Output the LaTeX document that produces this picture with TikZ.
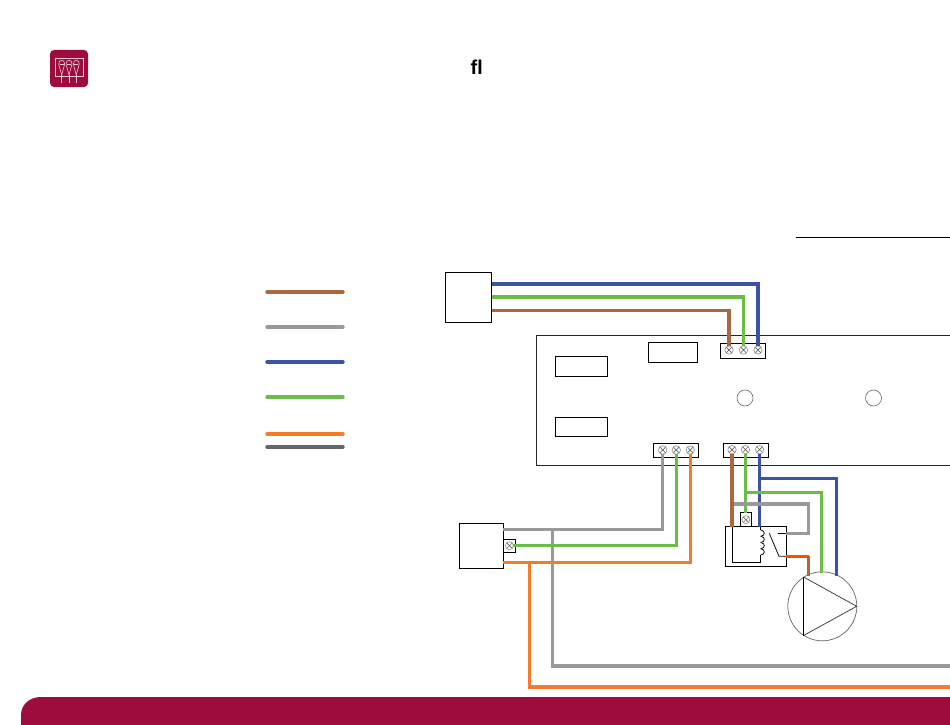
\documentclass[tikz,border=0pt]{standalone}
\usepackage{fontspec}
\setmainfont{Liberation Sans}
\definecolor{crimson}{HTML}{9E0B3D}
\definecolor{wbrown}{HTML}{A9693F}
\definecolor{wgray}{HTML}{999999}
\definecolor{wblue}{HTML}{3A53A4}
\definecolor{wgreen}{HTML}{6ABD45}
\definecolor{worange}{HTML}{F47B2B}
\definecolor{wdark}{HTML}{666666}
\definecolor{iconline}{HTML}{F0C8D4}
\tikzset{
  x=1pt,y=-1pt,
  boxn/.style={draw=black,line width=0.9pt,fill=white,inner sep=0pt,outer sep=0pt},
  screw/.style={circle,draw=black!45,line width=0.6pt,minimum size=8.4pt,inner sep=0pt,outer sep=0pt,
    path picture={\draw[black!70,line width=0.45pt]
      (path picture bounding box.south west)--(path picture bounding box.north east)
      (path picture bounding box.north west)--(path picture bounding box.south east);}},
  lamp/.style={circle,draw=black!60,line width=0.6pt,minimum size=16pt,inner sep=0pt,outer sep=0pt},
  wire/.style={line width=3.08pt,line join=miter},
  key/.style={line width=3.4pt,line cap=round},
  thin wire/.style={line width=0.75pt,black},
}
\begin{document}
\begin{tikzpicture}
\useasboundingbox (0,0) rectangle (950,725);
\fill[white] (0,0) rectangle (950,725);
% footer band
\fill[crimson] (21,725) -- (21,715) .. controls (21,705) and (29,697) .. (41,697) -- (950,697) -- (950,725) -- cycle;
% icon
\fill[crimson,rounded corners=4pt] (50,50) rectangle (88,87);
\draw[iconline,line width=0.7pt] (55.7,58.3) rectangle (83.3,76.7);
\foreach \bx in {61.7,69,76.3}{
  \draw[iconline,line width=0.6pt,fill=crimson] (\bx-3,64) .. controls (\bx-3,59) and (\bx+3,59) .. (\bx+3,64) -- (\bx,75) -- cycle;
  \draw[iconline,line width=0.5pt] (\bx-2,64) -- (\bx+2,64);
  \draw[iconline,line width=0.5pt] (\bx,75) -- (\bx,83);
}
% title
\node[font=\bfseries\fontsize{20pt}{22pt}\selectfont,inner sep=0pt] (title) at (476.8,67) {ﬂ};
% rule
\coordinate (ruleL) at (796,237.5);
\coordinate (ruleR) at (950,237.5);
\draw[line width=0.9pt] (ruleL) -- (ruleR);
% legend
\foreach \ly/\lc in {292/wbrown,327/wgray,362/wblue,397/wgreen,434/worange,447/wdark}{
  \draw[key,\lc] (267,\ly) -- (343,\ly);
}
% main enclosure
\draw[line width=0.8pt,black!85] (950,335.5) -| (536.5,465.5) -- (950,465.5);
\node[boxn,minimum width=52pt,minimum height=19.5pt] (labelA) at (581,366.5) {};
\node[boxn,minimum width=52pt,minimum height=19.5pt] (labelB) at (581,427) {};
\node[boxn,minimum width=49pt,minimum height=19.5pt] (labelC) at (672.5,352.5) {};
\node[lamp] (lampA) at (745,398) {};
\node[lamp] (lampB) at (873.5,398) {};
% supply box and terminal blocks
\node[boxn,minimum width=46.5pt,minimum height=50pt] (supply) at (468.5,297) {};
\node[boxn,minimum width=45pt,minimum height=15pt] (blockT) at (743,350.5) {};
\node[screw] (t1) at (729,350) {};
\node[screw] (t2) at (743.5,350) {};
\node[screw] (t3) at (758,350) {};
\node[boxn,minimum width=45pt,minimum height=14pt] (blockL) at (675.7,450.3) {};
\node[screw] (l1) at (662.7,450) {};
\node[screw] (l2) at (676.3,450) {};
\node[screw] (l3) at (690.3,450) {};
\node[boxn,minimum width=45pt,minimum height=14pt] (blockR) at (745.8,450.3) {};
\node[screw] (r1) at (732,449.7) {};
\node[screw] (r2) at (745.4,449.7) {};
\node[screw] (r3) at (759.6,449.7) {};
% controller at lower left
\node[boxn,minimum width=44pt,minimum height=45pt] (ctrl) at (481.3,545.8) {};
\node[boxn,minimum width=12.4pt,minimum height=13pt] (ctrlT) at (509.5,545.8) {};
\node[screw,minimum size=8pt] (c1) at (509.4,545.7) {};
% relay
\node[boxn,minimum width=61pt,minimum height=39.6pt] (relay) at (755.8,546.5) {};
\node[boxn,minimum width=11pt,minimum height=14pt] (relayT) at (746.2,519.7) {};
\node[screw,minimum size=8pt] (rl1) at (745.9,519.7) {};
% pump
\node[circle,draw=black!60,line width=0.7pt,minimum size=69pt,inner sep=0pt,outer sep=0pt] (pump) at (822.3,606.3) {};
\coordinate (pa) at (803.6,577);
\coordinate (pb) at (803.6,635.5);
\coordinate (pc) at (856.7,606.3);
\draw[line width=0.7pt,black!80] (pb) -- (pc) -- (pa);
\draw[line width=0.9pt] (pa) -- (pb);
% relay internals
\coordinate (coilT) at (760.7,526.7);
\coordinate (coilA) at (760.7,530);
\coordinate (coilB) at (760.7,555);
\coordinate (coilR) at (732.3,562.3);
\coordinate (coilL) at (732.3,526.7);
\coordinate (swA) at (769.3,533.3);
\coordinate (swB) at (779,556.3);
\coordinate (swC) at (778,533.3);
\coordinate (swD) at (786.3,533.3);
\coordinate (swE) at (786.3,556.3);
\draw[thin wire] (coilL) -- (coilR) -| (coilB);
\draw[thin wire] (coilT) -- (coilA);
\foreach \cy in {530,536.25,542.5,548.75}{
  \draw[thin wire] (760.7,\cy) .. controls (765.5,\cy+0.5) and (765.5,\cy+5.75) .. (760.7,\cy+6.25);
}
\draw[thin wire] (swA) -- (swB) -- (swE);
\draw[thin wire] (swC) -- (swD);
% wires: supply to top block
\coordinate (sB) at (492,284);
\coordinate (sG) at (492,297);
\coordinate (sN) at (492,310.5);
\draw[wire,wbrown] (sN) -| (t1.north);
\draw[wire,wgreen] (sG) -| (t2.north);
\draw[wire,wblue] (sB) -| (t3.north);
% wires: lower left block to controller
\coordinate (cG) at (503.3,529.5);
\coordinate (cO) at (503.3,562.5);
\coordinate (gJ) at (552.5,529.5);
\coordinate (oJ) at (529.5,562.5);
\coordinate (gE) at (950,666);
\coordinate (oE) at (950,687);
\draw[wire,wgray] (gJ) |- (gE);
\draw[wire,worange] (oJ) |- (oE);
\draw[wire,wgray] (cG) -| (l1.south);
\draw[wire,wgreen] (c1.east) -| (l2.south);
\draw[wire,worange] (cO) -| (l3.south);
% wires: right block to relay and pump
\coordinate (bJ) at (760,478.3);
\coordinate (nJ) at (745.3,492.3);
\coordinate (gyJ) at (732.3,504);
\coordinate (pN) at (808.7,575.5);
\coordinate (oK) at (808.7,556.3);
\draw[wire,wblue] (r3.south) -- (r3.south |- relay.north);
\draw[wire,wblue] (bJ) -| (836.3,576);
\draw[wire,wgreen] (r2.south) -- (r2.south |- relayT.north);
\draw[wire,wgreen] (nJ) -| (821.7,573);
\draw[wire,wgray] (gyJ) -| (808.7,533.3) -- (swD);
\draw[wire,wbrown] (r1.south) -- (r1.south |- relay.north);
\draw[wire,wbrown] (oK) -- (pN);
\draw[wire,orange!60!red] (swE) -- (oK);
\end{tikzpicture}
\end{document}
